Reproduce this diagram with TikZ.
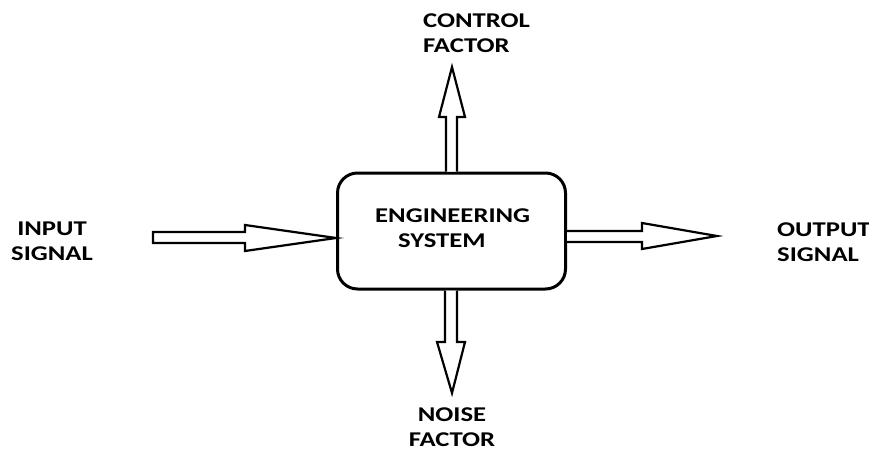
\documentclass[tikz,border=0pt]{standalone}
\usepackage{fontspec}
\usepackage{graphicx}
\setmainfont{Carlito}
\newcommand\wt[1]{\scalebox{1.27}[1]{#1}}
\begin{document}
\begin{tikzpicture}[x=1pt,y=-1pt,
  lbl/.style={font=\bfseries\fontsize{21}{25}\selectfont, text=black, align=left, inner sep=0pt},
  blockarrow/.style={draw=black, line width=2.2pt, fill=white, line join=miter}]
\useasboundingbox (0,0) rectangle (869,452);
\node[draw, line width=3pt, rounded corners=20pt, minimum width=228pt, minimum height=116pt, inner sep=0pt] (sys) at (451.5,231) {};
\node[lbl, anchor=west] (syst) at (375,228.25) {\wt{ENGINEERING}\\\hspace*{23pt}\wt{SYSTEM}};
\node[lbl, align=center] (inp) at (52,241) {\wt{INPUT}\\\wt{SIGNAL}};
\node[lbl, anchor=west] (outp) at (777,241.75) {\wt{OUTPUT}\\\wt{SIGNAL}};
\node[lbl, anchor=west] (ctrl) at (423,33.25) {\wt{CONTROL}\\\wt{FACTOR}};
\node[lbl, align=center] (noise) at (452,427.5) {\wt{NOISE}\\\wt{FACTOR}};
% input arrow
\draw[blockarrow] (153,232) -- (245,232) -- (245,225) -- (sys.west |- 0,238) -- (245,251) -- (245,243) -- (153,243) -- cycle;
% output arrow
\draw[blockarrow] (sys.east |- 0,231) -- (642,231) -- (642,223) -- (717,236) -- (642,249) -- (642,242) -- (sys.east |- 0,242);
% control arrow
\draw[blockarrow] (446,0 |- sys.north) -- (446,117) -- (439,117) -- (452,67) -- (465,117) -- (457,117) -- (457,0 |- sys.north);
% noise arrow
\draw[blockarrow] (445,0 |- sys.south) -- (445,342) -- (437,342) -- (452,393) -- (465,342) -- (457,342) -- (457,0 |- sys.south);
\end{tikzpicture}
\end{document}
